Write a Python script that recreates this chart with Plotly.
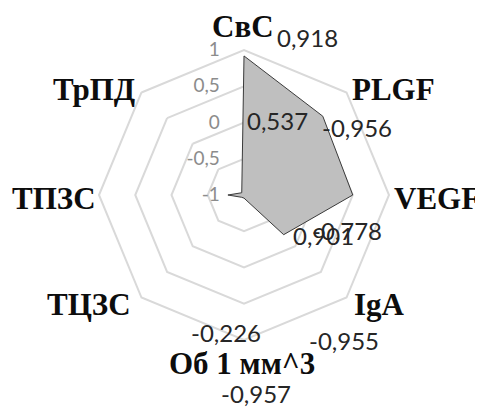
import plotly.graph_objects as go

# ---- data ----
categories = ["СвС", "PLGF", "VEGF", "IgA", "Об 1 мм^3", "ТЦЗС", "ТПЗС", "ТрПД"]
values = [0.918, 0.537, 0.50, -0.226, -0.957, -0.955, -0.778, -0.956]
value_labels = ["0,918", "0,537", "0,901", "-0,226", "-0,957", "-0,955", "-0,778", "-0,956"]
radial_tickvals = [-1, -0.5, 0, 0.5, 1]
radial_ticktext = ["-1", "-0,5", "0", "0,5", "1"]

# ---- layout constants ----
PAGE_W, PAGE_H = 483, 416
OFF = 8  # page body margin around the plot div
W, H = PAGE_W - OFF, PAGE_H - 2 * OFF  # no page scrolling
# value-label centres (px in the page)
label_px = [(307, 37), (277, 120), (323, 235), (226, 332),
            (256, 393), (344, 340), (347, 230), (357, 127)]
# category-label anchor points (px in the page) and horizontal anchors
cat_px = [(243, 27), (350, 90), (482, 198), (352, 304),
          (242, 363), (133, 304), (10, 198), (137, 90)]
cat_anchor = ["center", "left", "right", "left", "center", "right", "left", "right"]
cx, cy, R = 244 - OFF, 195 - OFF, 145


def px_to_paper(px, py):
    return (px - OFF) / W, 1 - (py - OFF) / H


fig = go.Figure()
fig.add_trace(go.Scatterpolar(
    r=values + values[:1],
    theta=categories + categories[:1],
    mode="lines",
    fill="toself",
    fillcolor="#bfbfbf",
    line=dict(color="#3a3a3a", width=1),
    hoverinfo="skip",
    showlegend=False,
))

annotations = []
for txt, (px, py), xa in zip(categories, cat_px, cat_anchor):
    x, y = px_to_paper(px, py)
    annotations.append(dict(
        x=x, y=y, xref="paper", yref="paper",
        text=f"<b>{txt}</b>", showarrow=False, xanchor=xa, yanchor="middle",
        font=dict(family="Liberation Serif", size=31, color="#0d0d0d"),
    ))
for txt, (px, py) in zip(value_labels, label_px):
    x, y = px_to_paper(px, py)
    annotations.append(dict(
        x=x, y=y, xref="paper", yref="paper",
        text=txt, showarrow=False, xanchor="center", yanchor="middle",
        font=dict(family="Lato", size=24, color="#262626"),
    ))

fig.update_layout(
    width=W, height=H,
    margin=dict(l=0, r=0, t=0, b=0),
    paper_bgcolor="white",
    plot_bgcolor="white",
    showlegend=False,
    annotations=annotations,
    polar=dict(
        domain=dict(x=[cx / W - R / W, cx / W + R / W],
                    y=[1 - cy / H - R / H, 1 - cy / H + R / H]),
        bgcolor="white",
        gridshape="linear",
        radialaxis=dict(
            range=[-1, 1],
            tickvals=radial_tickvals,
            ticktext=radial_ticktext,
            angle=90,
            side="counterclockwise",
            tickangle=90,
            showline=False,
            ticks="outside",
            ticklen=17,
            tickcolor="rgba(0,0,0,0)",
            showgrid=True,
            gridcolor="#d9d9d9",
            gridwidth=2,
            tickfont=dict(family="Lato", size=19, color="#8c8c8c"),
        ),
        angularaxis=dict(
            rotation=90,
            direction="clockwise",
            showgrid=False,
            showline=True,
            linecolor="#d9d9d9",
            linewidth=2,
            ticks="",
            showticklabels=False,
        ),
    ),
)

fig.write_html("out.html")
